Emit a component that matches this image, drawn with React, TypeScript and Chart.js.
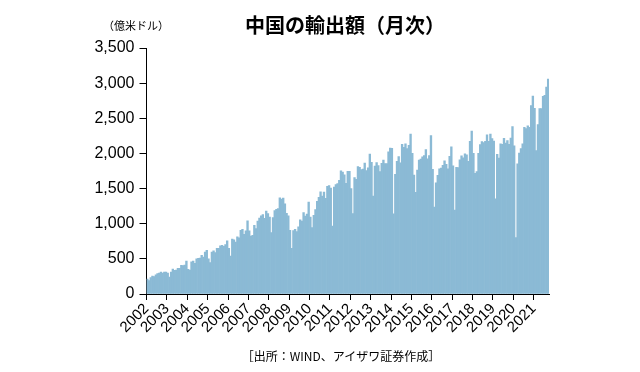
import React, { useEffect, useRef } from 'react';
import { Chart, registerables } from 'chart.js';

Chart.register(...registerables);

// 中国の輸出額（月次）, 億米ドル, 2002年1月〜2021年9月
const exports2002 = [214, 190, 232, 256, 247, 271, 290, 296, 313, 299, 313, 311];
const exports2003 = [296, 242, 312, 356, 335, 342, 366, 366, 408, 404, 413, 470];
const exports2004 = [351, 342, 456, 470, 437, 499, 508, 510, 551, 527, 598, 622];
const exports2005 = [499, 446, 598, 613, 589, 651, 651, 684, 693, 679, 703, 755];
const exports2006 = [650, 541, 782, 769, 740, 814, 800, 906, 919, 850, 900, 1040];
const exports2007 = [900, 823, 836, 977, 932, 1038, 1080, 1112, 1130, 1076, 1178, 1144];
const exports2008 = [1096, 874, 1087, 1187, 1204, 1214, 1367, 1349, 1364, 1283, 1149, 1112];
const exports2009 = [905, 649, 903, 919, 888, 954, 1054, 1037, 1160, 1108, 1137, 1307];
const exports2010 = [1095, 946, 1121, 1200, 1318, 1374, 1455, 1393, 1450, 1360, 1532, 1541];
const exports2011 = [1507, 967, 1522, 1557, 1572, 1619, 1751, 1733, 1697, 1575, 1745, 1747];
const exports2012 = [1499, 1145, 1656, 1633, 1812, 1802, 1770, 1779, 1863, 1755, 1794, 1992];
const exports2013 = [1873, 1393, 1821, 1870, 1827, 1743, 1860, 1906, 1856, 1854, 2022, 2077];
const exports2014 = [2071, 1141, 1701, 1886, 1954, 1868, 2128, 2085, 2136, 2069, 2116, 2275];
const exports2015 = [2001, 1691, 1446, 1763, 1907, 1918, 1951, 1968, 2056, 1924, 1969, 2253];
const exports2016 = [1772, 1235, 1580, 1690, 1780, 1790, 1830, 1895, 1845, 1781, 1960, 2095];
const exports2017 = [1822, 1195, 1801, 1800, 1910, 1966, 1937, 1996, 1981, 1888, 2172, 2318];
const exports2018 = [2001, 1717, 1741, 2000, 2127, 2167, 2155, 2173, 2266, 2171, 2275, 2213];
const exports2019 = [2176, 1354, 1986, 1934, 2138, 2128, 2215, 2148, 2182, 2129, 2217, 2382];
const exports2020 = [2108, 802, 1852, 2004, 2068, 2135, 2373, 2352, 2393, 2371, 2680, 2817];
const exports2021 = [2640, 2039, 2412, 2639, 2639, 2814, 2825, 2943, 3057];

const yearLabels = [
  '2002', '2003', '2004', '2005', '2006', '2007', '2008', '2009', '2010', '2011',
  '2012', '2013', '2014', '2015', '2016', '2017', '2018', '2019', '2020', '2021',
];

const yMin = 0;
const yMax = 3500;
const yStep = 500;

const titleText = '中国の輸出額（月次）';
const unitText = '（億米ドル）';
const sourceText = '［出所：WIND、アイザワ証券作成］';

const monthlyExports = [
  ...exports2002, ...exports2003, ...exports2004, ...exports2005, ...exports2006,
  ...exports2007, ...exports2008, ...exports2009, ...exports2010, ...exports2011,
  ...exports2012, ...exports2013, ...exports2014, ...exports2015, ...exports2016,
  ...exports2017, ...exports2018, ...exports2019, ...exports2020, ...exports2021,
];

const JP_FONT = '"Noto Sans CJK JP", "Noto Sans", sans-serif';
const NUM_FONT = '"Liberation Sans", Arial, sans-serif';

export default function App() {
  const canvasRef = useRef<HTMLCanvasElement | null>(null);

  useEffect(() => {
    const canvas = canvasRef.current;
    if (!canvas) return;
    const points = monthlyExports.map((v, i) => ({ x: i + 0.5, y: v }));
    const chart = new Chart(canvas, {
      type: 'bar',
      data: {
        datasets: [
          {
            data: points as any,
            backgroundColor: '#8BBAD5',
            borderWidth: 0,
            barPercentage: 1,
            categoryPercentage: 1,
          },
        ],
      },
      options: {
        responsive: false,
        animation: false,
        devicePixelRatio: 1,
        layout: { padding: { left: 0, right: 91, top: 48, bottom: 0 } },
        plugins: {
          legend: { display: false },
          tooltip: { enabled: false },
          title: { display: false },
        },
        scales: {
          x: {
            type: 'linear',
            min: 0,
            max: monthlyExports.length,
            offset: false,
            afterBuildTicks: (axis: any) => {
              axis.ticks = yearLabels.map((_, i) => ({ value: i * 12 }));
            },
            afterFit: (axis: any) => {
              axis.height = 78;
            },
            ticks: {
              autoSkip: false,
              maxRotation: 45,
              minRotation: 45,
              padding: 0,
              color: '#000',
              font: { family: NUM_FONT, size: 15 },
              callback: (v: any) => yearLabels[Math.round(Number(v) / 12)] ?? '',
            },
            grid: { offset: false, drawOnChartArea: false, drawTicks: true, tickLength: 6, color: '#000' },
            border: { display: true, color: '#000', width: 1 },
          },
          y: {
            min: yMin,
            max: yMax,
            afterFit: (axis: any) => {
              axis.width = 146.5;
            },
            ticks: {
              stepSize: yStep,
              color: '#000',
              padding: 5,
              font: { family: NUM_FONT, size: 16 },
              callback: (v: any) => Number(v).toLocaleString('en-US'),
            },
            grid: { drawOnChartArea: false, drawTicks: true, tickLength: 7, color: '#000' },
            border: { display: true, color: '#000', width: 1 },
          },
        },
      },
    } as any);
    return () => chart.destroy();
  }, []);

  return (
    <div style={{ position: 'absolute', left: 0, top: 0, width: 640, height: 372, background: '#fff' }}>
      <canvas
        ref={canvasRef}
        width={640}
        height={372}
        style={{ position: 'absolute', left: 0, top: 0, width: 640, height: 372 }}
      />
      <div
        style={{
          position: 'absolute', left: 345, top: 14, transform: 'translateX(-50%)',
          fontFamily: JP_FONT, fontWeight: 'bold', fontSize: 20, lineHeight: '21px',
          whiteSpace: 'nowrap', color: '#000',
        }}
      >
        {titleText}
      </div>
      <div
        style={{
          position: 'absolute', left: 136, top: 19, transform: 'translateX(-50%)',
          fontFamily: JP_FONT, fontSize: 11, lineHeight: '12px', whiteSpace: 'nowrap', color: '#000',
        }}
      >
        {unitText}
      </div>
      <div
        style={{
          position: 'absolute', left: 341, top: 349, transform: 'translateX(-50%)',
          fontFamily: JP_FONT, fontSize: 12, lineHeight: '14px', whiteSpace: 'nowrap', color: '#000',
        }}
      >
        {sourceText}
      </div>
    </div>
  );
}
